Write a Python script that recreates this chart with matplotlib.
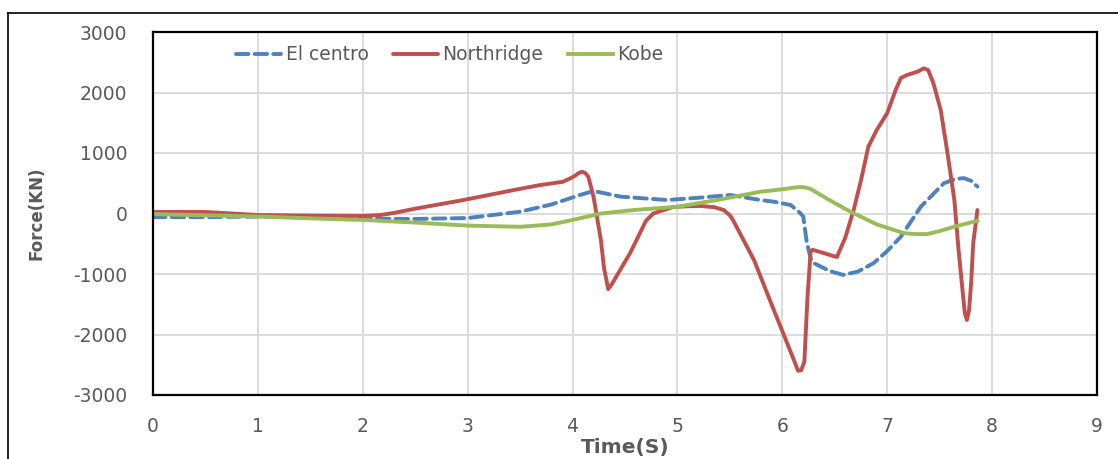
import matplotlib
matplotlib.use("Agg")
import matplotlib.pyplot as plt
from matplotlib.lines import Line2D

# time (s) / force (kN) readings for each record
el_centro_t = [0, 0.5, 1.0, 1.5, 2.0, 2.5, 3.0, 3.5, 3.8, 4.07, 4.2, 4.46, 4.9, 5.2,
               5.5, 5.79, 5.92, 6.08, 6.17, 6.2, 6.23, 6.25, 6.27, 6.3, 6.45, 6.58,
               6.72, 6.87, 7.0, 7.13, 7.32, 7.54, 7.65, 7.73, 7.8, 7.86]
el_centro_f = [-60, -60, -50, -60, -85, -90, -75, 30, 150, 306, 372, 278, 223, 260,
               306, 223, 195, 140, 8, -52, -440, -600, -740, -820, -950, -1015,
               -960, -820, -620, -383, 112, 500, 570, 585, 540, 445]

northridge_t = [0, 0.5, 1.0, 1.5, 2.0, 2.17, 2.3, 2.5, 2.96, 3.44, 3.69, 3.91, 4.01,
                4.06, 4.09, 4.12, 4.15, 4.2, 4.27, 4.3, 4.34, 4.37, 4.55, 4.7, 4.77,
                4.84, 4.96, 5.1, 5.22, 5.35, 5.44, 5.5, 5.53, 5.73, 5.92, 6.11, 6.15,
                6.18, 6.21, 6.24, 6.27, 6.29, 6.52, 6.6, 6.68, 6.75, 6.82, 6.9, 7.0,
                7.08, 7.13, 7.19, 7.29, 7.35, 7.39, 7.44, 7.51, 7.57, 7.64, 7.68, 7.73,
                7.74, 7.76, 7.78, 7.8, 7.82, 7.86]
northridge_f = [25, 25, -25, -35, -40, -25, 10, 80, 223, 388, 470, 525, 608,
                670, 690, 670, 608, 278, -438, -900, -1250, -1180, -650, -120, 0,
                41, 107, 120, 124, 105, 58, -30, -110, -770, -1600, -2420, -2600,
                -2590, -2450, -1375, -620, -600, -720, -400, 58, 550, 1105, 1380, 1660,
                2040, 2240, 2290, 2345, 2400, 2370, 2155, 1710, 1050, 223, -600, -1480,
                -1650, -1760, -1600, -1150, -490, 58]

kobe_t = [0, 0.5, 1.0, 1.5, 2.0, 2.5, 3.0, 3.5, 3.8, 4.0, 4.27, 4.6, 5.0, 5.4, 5.79,
          6.0, 6.1, 6.17, 6.22, 6.27, 6.45, 6.65, 6.9, 7.16, 7.27, 7.38, 7.5, 7.64, 7.86]
kobe_f = [-10, -30, -50, -80, -107, -150, -200, -220, -180, -107, 0, 60, 112, 230, 360,
          400, 425, 438, 430, 405, 220, 30, -180, -325, -340, -340, -290, -218, -120]

x_ticks = list(range(0, 10))
y_ticks = list(range(-3000, 3001, 1000))

plt.rcParams['font.family'] = ['DejaVu Sans']
plt.rcParams['axes.unicode_minus'] = False
grey = '#595959'

fig = plt.figure(figsize=(11.18, 4.59), dpi=100)
ax = fig.add_axes([153 / 1118, 1 - 395 / 459, 944 / 1118, 363 / 459])

ax.plot(el_centro_t, el_centro_f, color='#4F81BD', lw=2.8, dashes=(3.2, 1.6),
        label='El centro', dash_capstyle='round', dash_joinstyle='round')
ax.plot(northridge_t, northridge_f, color='#C0504D', lw=2.8, label='Northridge',
        solid_joinstyle='round', solid_capstyle='round')
ax.plot(kobe_t, kobe_f, color='#9BBB59', lw=2.8, label='Kobe',
        solid_joinstyle='round')

ax.set_xlim(0, 9)
ax.set_ylim(-3000, 3000)
ax.set_xticks(x_ticks)
ax.set_yticks(y_ticks)
ax.grid(True, color='#d9d9d9', lw=1.3)
ax.set_axisbelow(True)
ax.tick_params(length=0, labelsize=13.5, labelcolor=grey)
ax.tick_params(axis='x', pad=16)
ax.tick_params(axis='y', pad=18.5)
for s in ax.spines.values():
    s.set_linewidth(1.6)
    s.set_color('black')

ax.set_xlabel('Time(S)', fontsize=14.5, fontweight='bold', color=grey, labelpad=1.5)
ax.set_ylabel('Force(KN)', fontsize=12, fontweight='bold', color=grey, labelpad=20)

ax.legend(loc='upper left', bbox_to_anchor=(0.07, 1.01), ncol=3, frameon=False,
          fontsize=13.5, handlelength=2.4, handletextpad=0.25, columnspacing=1.3,
          labelcolor=grey)

# outer chart frame
fig.add_artist(Line2D([8 / 1118, 1], [1 - 13 / 459, 1 - 13 / 459],
                      transform=fig.transFigure, color='black', lw=1.2))
fig.add_artist(Line2D([8 / 1118, 8 / 1118], [0, 1 - 13 / 459],
                      transform=fig.transFigure, color='black', lw=1.2))

fig.savefig('out.png', dpi=100)
